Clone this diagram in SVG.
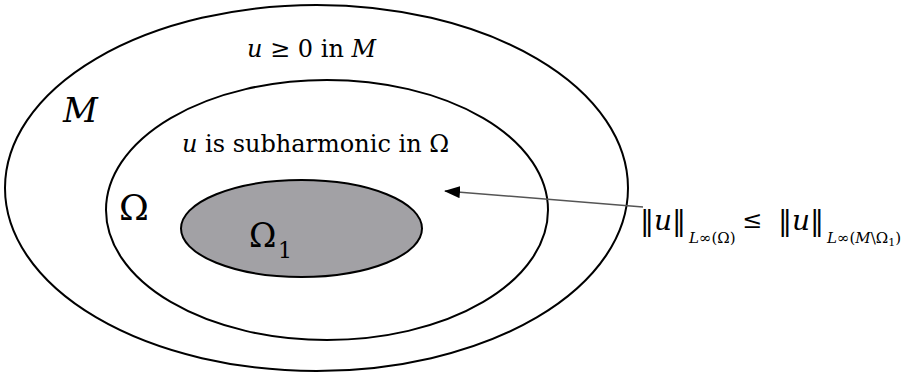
<svg xmlns="http://www.w3.org/2000/svg" width="915" height="376" viewBox="0 0 915 376">
<defs>
<style>
.i{font-style:italic}
.ring{fill:none;stroke:#000;stroke-width:2}
</style>
<marker id="ah" markerWidth="16" markerHeight="12" refX="15" refY="6" orient="auto" markerUnits="userSpaceOnUse">
<path d="M0,0 L16,6 L0,12 Z" fill="#000"/>
</marker>
</defs>
<rect width="915" height="376" fill="#fff"/>
<g font-family="DejaVu Serif, Liberation Serif, serif" fill="#000">
<g id="M">
<ellipse class="ring" cx="316.5" cy="188" rx="311.5" ry="183"/>
<text class="i" x="63" y="122" font-size="34">M</text>
<text x="247" y="57" font-size="24"><tspan class="i">u</tspan> ≥ 0 in <tspan class="i">M</tspan></text>
</g>
<g id="Omega">
<ellipse class="ring" cx="327" cy="210" rx="221" ry="130"/>
<text x="119" y="220" font-size="36">Ω</text>
<text x="182" y="152" font-size="24"><tspan class="i">u</tspan> is subharmonic in Ω</text>
</g>
<g id="Omega1">
<ellipse cx="301.5" cy="228.5" rx="120.5" ry="48.5" fill="#a2a1a5" stroke="#000" stroke-width="2"/>
<text x="249" y="247" font-size="33">Ω</text>
<text x="278" y="258" font-size="22">1</text>
</g>
<g id="connectors">
<line x1="643" y1="207" x2="445" y2="191" stroke="#555" stroke-width="1.5" marker-end="url(#ah)"/>
</g>
<g id="formula">
<text x="640" y="230" font-size="28">‖<tspan class="i">u</tspan>‖</text>
<text x="689" y="243" font-size="15"><tspan class="i">L</tspan>∞(Ω)</text>
<text x="742" y="228" font-size="24">≤</text>
<text x="778" y="230" font-size="28">‖<tspan class="i">u</tspan>‖</text>
<text x="827" y="243" font-size="15"><tspan class="i">L</tspan>∞(<tspan class="i">M</tspan>\Ω<tspan font-size="11" dy="3">1</tspan><tspan dy="-3">)</tspan></text>
</g>
</g>
</svg>
